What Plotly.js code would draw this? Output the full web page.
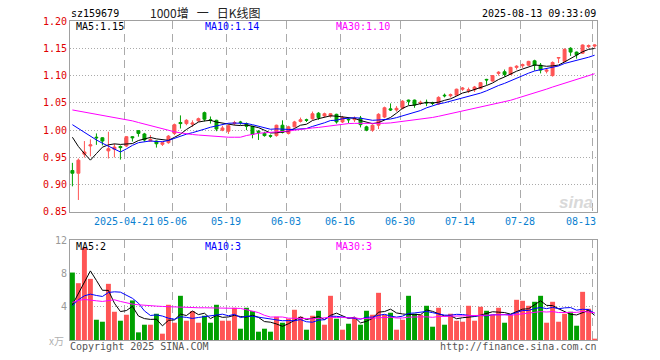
<!DOCTYPE html>
<html><head><meta charset="utf-8">
<script src="https://cdn.plot.ly/plotly-3.0.1.min.js"></script>
<style>html,body{margin:0;padding:0;background:#fff}#chart{width:660px;height:360px}</style>
</head><body><div id="chart"></div>
<script>
// ---- data ----
const dates = [
 '2025-04-08','2025-04-09','2025-04-10','2025-04-11','2025-04-14','2025-04-15','2025-04-16','2025-04-17','2025-04-18','2025-04-21',
 '2025-04-22','2025-04-23','2025-04-24','2025-04-25','2025-04-28','2025-04-29','2025-04-30','2025-05-06','2025-05-07','2025-05-08',
 '2025-05-09','2025-05-12','2025-05-13','2025-05-14','2025-05-15','2025-05-16','2025-05-19','2025-05-20','2025-05-21','2025-05-22',
 '2025-05-23','2025-05-26','2025-05-27','2025-05-28','2025-05-29','2025-05-30','2025-06-03','2025-06-04','2025-06-05','2025-06-06',
 '2025-06-09','2025-06-10','2025-06-11','2025-06-12','2025-06-13','2025-06-16','2025-06-17','2025-06-18','2025-06-19','2025-06-20',
 '2025-06-23','2025-06-24','2025-06-25','2025-06-26','2025-06-27','2025-06-30','2025-07-01','2025-07-02','2025-07-03','2025-07-04',
 '2025-07-07','2025-07-08','2025-07-09','2025-07-10','2025-07-11','2025-07-14','2025-07-15','2025-07-16','2025-07-17','2025-07-18',
 '2025-07-21','2025-07-22','2025-07-23','2025-07-24','2025-07-25','2025-07-28','2025-07-29','2025-07-30','2025-07-31','2025-08-01',
 '2025-08-04','2025-08-05','2025-08-06','2025-08-07','2025-08-08','2025-08-11','2025-08-12','2025-08-13'];

const openP = [0.926,0.921,0.956,0.971,0.987,0.986,0.962,0.965,0.970,0.971,
 0.988,0.999,0.993,0.980,0.980,0.974,0.977,0.994,1.014,1.012,
 1.011,1.017,1.032,1.019,1.018,1.000,0.998,1.012,1.015,1.012,
 1.007,0.998,0.994,0.990,0.990,1.009,0.994,1.006,1.016,1.019,
 1.021,1.031,1.026,1.026,1.029,1.015,1.020,1.019,1.022,1.006,
 1.000,1.009,1.024,1.039,1.037,1.040,1.055,1.055,1.049,1.051,
 1.050,1.048,1.064,1.063,1.064,1.075,1.072,1.074,1.076,1.093,
 1.090,1.104,1.107,1.102,1.115,1.118,1.119,1.127,1.119,1.108,
 1.100,1.132,1.126,1.150,1.143,1.141,1.153,1.154];
const highP = [0.940,0.948,0.980,0.983,0.994,0.987,0.997,0.975,0.972,0.989,
 0.989,1.000,0.995,0.991,0.981,0.979,0.991,1.012,1.027,1.020,
 1.018,1.023,1.034,1.025,1.019,1.008,1.010,1.017,1.017,1.014,
 1.008,1.000,0.997,0.992,1.010,1.018,1.008,1.017,1.023,1.021,
 1.034,1.033,1.032,1.031,1.030,1.026,1.022,1.025,1.026,1.008,
 1.010,1.031,1.043,1.049,1.044,1.055,1.056,1.056,1.054,1.056,
 1.052,1.062,1.067,1.067,1.076,1.079,1.078,1.081,1.088,1.094,
 1.101,1.108,1.111,1.116,1.119,1.122,1.127,1.129,1.123,1.113,
 1.126,1.134,1.150,1.152,1.144,1.157,1.157,1.157];
const lowP = [0.897,0.872,0.950,0.952,0.973,0.972,0.948,0.950,0.946,0.969,
 0.979,0.988,0.979,0.979,0.968,0.971,0.975,0.991,1.003,1.009,
 1.006,1.015,1.016,1.012,0.998,0.998,0.993,1.009,1.010,1.000,
 0.985,0.982,0.988,0.986,0.988,0.994,0.992,1.005,1.014,1.015,
 1.019,1.019,1.024,1.023,1.012,1.013,1.013,1.015,1.005,0.998,
 0.997,1.002,1.022,1.035,1.034,1.038,1.046,1.041,1.046,1.044,
 1.046,1.046,1.060,1.060,1.063,1.072,1.068,1.070,1.075,1.083,
 1.089,1.100,1.098,1.101,1.111,1.114,1.118,1.109,1.104,1.104,
 1.098,1.123,1.124,1.136,1.131,1.140,1.150,1.151];
const closeP = [0.921,0.945,0.960,0.973,0.986,0.980,0.966,0.969,0.968,0.988,
 0.986,0.994,0.982,0.983,0.975,0.977,0.989,1.010,1.012,1.018,
 1.013,1.021,1.020,1.018,1.002,1.004,1.008,1.014,1.014,1.007,
 0.992,0.996,0.990,0.989,1.009,0.996,1.006,1.015,1.019,1.018,
 1.030,1.023,1.030,1.030,1.015,1.023,1.019,1.021,1.010,1.000,
 1.009,1.029,1.041,1.037,1.040,1.053,1.053,1.046,1.051,1.050,
 1.049,1.060,1.063,1.065,1.075,1.077,1.074,1.079,1.087,1.092,
 1.100,1.106,1.102,1.115,1.117,1.120,1.126,1.119,1.110,1.110,
 1.124,1.133,1.148,1.143,1.138,1.156,1.155,1.156];

// volume, 万
const volume = [8.12,6.84,11.1,7.36,2.44,2.2,6.76,3.4,2.32,3.04,
 4.76,0.92,1.84,1.84,3.16,0.76,4.24,2.08,5.32,2.32,
 3.48,2.08,2.92,2.08,4.24,2.32,2.32,3.88,1.36,3.88,
 3.48,1.0,1.36,1.0,2.8,2.08,2.56,3.64,2.8,1.24,
 2.92,3.52,1.84,5.32,2.56,1.24,1.96,2.68,1.84,3.52,
 3.04,5.68,3.04,3.28,1.24,2.44,5.32,3.16,3.04,4.12,
 1.6,3.88,1.84,3.16,2.32,2.2,4.12,2.32,4.0,3.52,
 3.04,3.88,2.08,3.04,4.84,4.72,4.12,4.6,5.32,2.08,
 4.6,2.2,3.16,3.4,1.72,5.8,3.76,0.16];

// moving-average values read where their window reaches before the first shown day
const ma5Head  = [0.987,0.970,0.957,0.945];
const ma10Head = [1.010,1.003,0.996,0.988,0.982,0.976,0.971,0.965,0.960];
const ma30Head = [1.037,1.035,1.033,1.031,1.029,1.028,1.026,1.024,1.022,1.020,
 1.017,1.014,1.011,1.008,1.005,1.002,0.999,0.997,0.995,0.993,
 0.992,0.991,0.990,0.989,0.988,0.988,0.987,0.987,0.987];
const vma5Head  = [4.24,5.64,7.04,8.32];
const vma10Head = [4.12,4.84,5.32,5.52,5.36,5.24,5.72,5.8,5.76];
const vma30Head = [4.52,4.76,4.88,4.84,4.72,4.64,4.76,4.84,4.64,4.44,
 4.32,4.24,4.16,4.12,4.08,4.04,4.0,3.96,3.92,3.88,
 3.88,3.88,3.88,3.88,3.88,3.84,3.84,3.8,3.8];

const tickDates  = ['2025-04-21','2025-05-06','2025-05-19','2025-06-03','2025-06-16','2025-06-30','2025-07-14','2025-07-28','2025-08-13'];
const tickLabels = ['2025-04-21','05-06','05-19','06-03','06-16','06-30','07-14','07-28','08-13'];
const priceTicks = [0.85,0.90,0.95,1.00,1.05,1.10,1.15,1.20];
const volTicks   = [4,8,12];
const volTickLabels = ['4','8','12'];

const symbol = 'sz159679';
const titleText = '1000增\u00a0\u00a0\u00a0一\u00a0\u00a0\u00a0日K线图';
const stamp = '2025-08-13 09:33:09';
const maLabels  = ['MA5:1.15','MA10:1.14','MA30:1.10'];
const vmaLabels = ['MA5:2','MA10:3','MA30:3'];

// ---- helpers ----
function movingAvg(arr, n, head){
  return arr.map((v,i)=>{
    if(i < head.length) return head[i];
    let s=0; for(let k=i-n+1;k<=i;k++) s+=arr[k]; return s/n;
  });
}
const idx = dates.map((d,i)=>i);
const RED='#ff5555', GREEN='#00a000';
const volColors = closeP.map((c,i)=> c>=openP[i] ? RED : GREEN);
const tickIdx = tickDates.map(d=>dates.indexOf(d)-0.35);

const W=660,H=360,L=70,R=63,T=21,B=20;
const pw=W-L-R, ph=H-T-B;
const px = x => (x-L)/pw;
const py = y => (H-B-y)/ph;

const mono = 'DejaVu Sans Mono, monospace';
function ann(text,x,y,anchor,color,size,family,extra){
  return Object.assign({text:text,xref:'paper',yref:'paper',x:px(x),y:py(y),xanchor:anchor,yanchor:'middle',
    showarrow:false,font:{family:family||mono,size:size||10,color:color||'#000'},borderpad:0},extra||{});
}

const traces = [
 {type:'candlestick',x:idx,open:openP,high:highP,low:lowP,close:closeP,xaxis:'x',yaxis:'y',
  increasing:{line:{color:RED,width:1},fillcolor:RED},
  decreasing:{line:{color:GREEN,width:1},fillcolor:GREEN},
  whiskerwidth:0,hoverinfo:'skip',showlegend:false},
 {type:'scatter',mode:'lines',x:idx,y:movingAvg(closeP,5,ma5Head),line:{color:'#000000',width:1},xaxis:'x',yaxis:'y',hoverinfo:'skip'},
 {type:'scatter',mode:'lines',x:idx,y:movingAvg(closeP,10,ma10Head),line:{color:'#0000ff',width:1},xaxis:'x',yaxis:'y',hoverinfo:'skip'},
 {type:'scatter',mode:'lines',x:idx,y:movingAvg(closeP,30,ma30Head),line:{color:'#ff00ff',width:1},xaxis:'x',yaxis:'y',hoverinfo:'skip'},
 {type:'bar',x:idx,y:volume,marker:{color:volColors,line:{width:0}},width:0.82,xaxis:'x2',yaxis:'y2',hoverinfo:'skip'},
 {type:'scatter',mode:'lines',x:idx,y:movingAvg(volume,5,vma5Head),line:{color:'#000000',width:1},xaxis:'x2',yaxis:'y2',hoverinfo:'skip'},
 {type:'scatter',mode:'lines',x:idx,y:movingAvg(volume,10,vma10Head),line:{color:'#0000ff',width:1},xaxis:'x2',yaxis:'y2',hoverinfo:'skip'},
 {type:'scatter',mode:'lines',x:idx,y:movingAvg(volume,30,vma30Head),line:{color:'#ff00ff',width:1},xaxis:'x2',yaxis:'y2',hoverinfo:'skip'}
];

const frame = '#a0a0a0';
const xBase = {range:[-0.4,87.4],tickmode:'array',tickvals:tickIdx,showticklabels:false,ticks:'',
  showgrid:true,gridcolor:'#aaaaaa',griddash:'8px,5px',gridwidth:1,
  showline:true,mirror:true,linecolor:frame,linewidth:1,zeroline:false,fixedrange:true};

const annotations = [
  ann(symbol,70,13,'left','#000'),
  ann(titleText,205,12.5,'center','#222',12,'Noto Sans CJK SC, sans-serif'),
  ann(stamp,597,13,'right','#000'),
  ann(maLabels[0],75,26.5,'left','#000'),
  ann(maLabels[1],204,26.5,'left','#0000ff'),
  ann(maLabels[2],335,26.5,'left','#ff00ff'),
  ann(vmaLabels[0],75,246.5,'left','#000'),
  ann(vmaLabels[1],204,246.5,'left','#0000ff'),
  ann(vmaLabels[2],335,246.5,'left','#ff00ff'),
  ann('x万',56,341,'center','#b0b0b0',10,'Noto Sans CJK SC, sans-serif'),
  ann('Copyright 2025 SINA.COM',69,346.5,'left','#555'),
  ann('http://finance.sina.com.cn',598,346.5,'right','#555'),
  ann('<i><b>sina</b></i>',576,202,'center','#d9d9d9',17,'Liberation Sans, sans-serif')
];
tickLabels.forEach((t,k)=>{
  const xpix = L + (tickIdx[k]+0.4)/87.8*pw;
  const last = k===tickLabels.length-1;
  annotations.push(ann(t, last?597:xpix, 221.5, last?'right':'center', '#0a7fd0'));
});

const layout = {
  width:W,height:H,margin:{l:L,r:R,t:T,b:B},paper_bgcolor:'#fff',plot_bgcolor:'#fff',
  showlegend:false,dragmode:false,hovermode:false,
  xaxis:Object.assign({},xBase,{anchor:'y',rangeslider:{visible:false}}),
  xaxis2:Object.assign({},xBase,{anchor:'y2'}),
  yaxis:{domain:[0.4013,1],range:[0.85,1.20],tickmode:'array',tickvals:priceTicks,tickformat:'.2f',
    tickfont:{family:mono,size:10,color:'#e00000'},ticks:'',showgrid:true,gridcolor:'#aaaaaa',griddash:'1px,2px',
    showline:true,mirror:true,linecolor:frame,zeroline:false,fixedrange:true},
  yaxis2:{domain:[0,0.3125],range:[0,12],tickmode:'array',tickvals:volTicks,ticktext:volTickLabels,
    tickfont:{family:mono,size:10,color:'#999'},ticks:'',showgrid:true,gridcolor:'#aaaaaa',griddash:'1px,2px',
    showline:true,mirror:true,linecolor:frame,zeroline:false,fixedrange:true},
  annotations:annotations
};
Plotly.newPlot('chart',traces,layout,{staticPlot:true,displayModeBar:false});
</script></body></html>
